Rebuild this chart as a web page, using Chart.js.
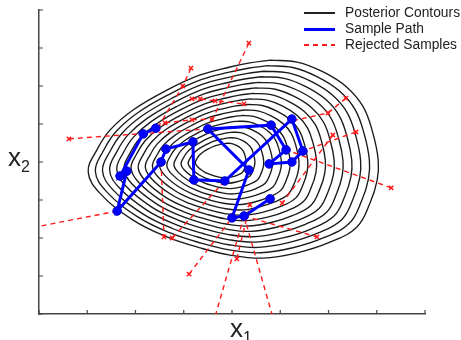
<!DOCTYPE html>
<html>
<head>
<meta charset="utf-8">
<script src="https://cdn.jsdelivr.net/npm/chart.js@4/dist/chart.umd.min.js"></script>
<style>
  html, body { margin: 0; padding: 0; background: #fff; }
  #wrap { position: relative; width: 461px; height: 340px; font-family: 'Liberation Sans', Arial, sans-serif; color: #222; }
  #chart { position: absolute; left: 0; top: 0; }
  .legend { position: absolute; left: 304px; top: 5px; font-size: 13.8px; line-height: 16px; }
  .legend .row { display: flex; align-items: center; height: 16px; white-space: nowrap; }
  .legend .sw { display: inline-block; width: 31px; margin-right: 10px; }
  .axlabel { position: absolute; font-size: 26px; line-height: 26px; }
  .axlabel sub { font-size: 16px; vertical-align: -6px; }
</style>
</head>
<body>
<div id="wrap">
  <canvas id="chart" width="461" height="340"></canvas>
  <div class="legend">
    <div class="row"><span class="sw" style="height:1.3px; background:#222"></span>Posterior Contours</div>
    <div class="row"><span class="sw" style="height:3px; background:#0000ff"></span>Sample Path</div>
    <div class="row"><span class="sw" style="height:1.5px; background:repeating-linear-gradient(to right, #ff1a1a 0 5px, transparent 5px 9px)"></span>Rejected Samples</div>
  </div>
  <div class="axlabel" style="left:8px; top:144px;">x<sub>2</sub></div>
  <div class="axlabel" style="left:230px; top:315px;">x<sub>1</sub></div>
</div>
<script>
// Axis ticks (no labels shown)
const xTicks = [0, 1, 2, 3, 4, 5, 6, 7, 8];
const yTicks = [0, 1, 2, 3, 4, 5, 6, 7, 8];

// Posterior contours: outermost contour, its focus, and relative levels
const contourCenter = [3.71, 4.03];
const outerX = [4.79, 5.35, 5.89, 6.38, 6.72, 6.92, 7.03, 7.01, 6.86, 6.59, 6.03, 5.35, 4.64,
                3.96, 3.34, 2.65, 1.95, 1.26, 1.02, 1.20, 1.47, 1.95, 2.65, 3.34, 3.96, 4.37, 4.79];
const outerY = [6.68, 6.63, 6.37, 5.97, 5.45, 4.76, 4.05, 3.53, 2.92, 2.29, 1.89, 1.61, 1.47,
                1.55, 1.74, 2.03, 2.47, 3.18, 3.74, 4.32, 4.84, 5.37, 5.89, 6.29, 6.50, 6.61, 6.68];
const contourLevels = [1.0, 0.945, 0.89, 0.835, 0.78, 0.725, 0.67, 0.615, 0.56, 0.505,
                       0.45, 0.395, 0.34, 0.285, 0.23, 0.175];

// Accepted sample path
const pathX = [2.42, 2.16, 1.68, 1.82, 1.62, 2.53, 2.63, 3.19, 3.21, 3.85, 5.24,
               5.47, 5.24, 4.77, 5.12, 4.81, 3.50, 4.35, 4.00, 4.25, 4.79];
const pathY = [4.89, 4.74, 3.63, 3.76, 2.71, 4.00, 4.34, 4.53, 3.53, 3.50, 5.13,
               4.29, 4.00, 3.95, 4.32, 4.97, 4.87, 3.79, 2.53, 2.58, 3.03];

// Rejected proposals: each segment is a list of [x, y]
const rejectedSegments = [
  [[0.62, 4.61], [3.50, 4.87]],
  [[3.15, 6.47], [2.98, 6.00], [2.47, 4.92]],
  [[3.17, 5.66], [3.34, 5.66], [3.65, 5.61], [4.25, 5.53]],
  [[2.61, 5.03], [3.17, 5.11], [3.59, 5.13]],
  [[4.35, 7.13], [3.50, 4.87]],
  [[6.36, 5.68], [5.99, 5.29], [5.24, 5.08]],
  [[6.57, 4.79], [5.47, 4.29]],
  [[6.09, 4.71], [5.04, 2.92]],
  [[7.30, 3.32], [5.12, 4.32]],
  [[4.25, 2.58], [5.76, 2.03]],
  [[4.10, 1.45], [4.37, 2.87]],
  [[3.11, 1.05], [4.00, 2.53]],
  [[2.53, 4.00], [2.59, 2.03]],
  [[2.76, 2.00], [3.85, 3.50]],
  [[4.25, 2.58], [3.54, -0.55]],
  [[4.25, 2.58], [4.95, -0.55]],
  [[1.62, 2.71], [-0.39, 2.21]]
];

const toPoints = (xs, ys) => xs.map((x, i) => ({ x: x, y: ys[i] }));

const contourSets = contourLevels.map(s => ({
  data: outerX.map((x, i) => ({
    x: contourCenter[0] + s * (x - contourCenter[0]),
    y: contourCenter[1] + s * (outerY[i] - contourCenter[1])
  })),
  showLine: true,
  borderColor: '#1a1a1a',
  borderWidth: 1.35,
  tension: 0.4,
  pointRadius: 0,
  order: 3
}));

const rejectedSets = rejectedSegments.map(seg => ({
  data: seg.map(p => ({ x: p[0], y: p[1] })),
  showLine: true,
  borderColor: '#ff1a1a',
  borderWidth: 1.4,
  borderDash: [5, 4],
  pointStyle: 'crossRot',
  pointRadius: 3,
  pointBorderColor: '#ff1a1a',
  pointBorderWidth: 1.5,
  order: 2
}));

const pathSet = {
  data: toPoints(pathX, pathY),
  showLine: true,
  borderColor: '#0000ff',
  borderWidth: 3,
  pointStyle: 'circle',
  pointRadius: 4.3,
  pointBackgroundColor: '#0000ff',
  pointBorderColor: '#0000cc',
  pointBorderWidth: 1,
  tension: 0,
  order: 1
};

// Short ticks drawn inward along the left and bottom axes
const innerTicks = {
  id: 'innerTicks',
  afterDraw(chart) {
    const { ctx, chartArea, scales } = chart;
    ctx.save();
    ctx.strokeStyle = '#444';
    ctx.lineWidth = 1.2;
    ctx.beginPath();
    scales.x.ticks.forEach((t, i) => {
      const px = scales.x.getPixelForTick(i);
      ctx.moveTo(px, chartArea.bottom);
      ctx.lineTo(px, chartArea.bottom - 4);
    });
    scales.y.ticks.forEach((t, i) => {
      const py = scales.y.getPixelForTick(i);
      ctx.moveTo(chartArea.left, py);
      ctx.lineTo(chartArea.left + 4, py);
    });
    ctx.stroke();
    ctx.restore();
  }
};

const axisOpts = (ticks) => ({
  type: 'linear',
  min: ticks[0],
  max: ticks[ticks.length - 1],
  afterBuildTicks: (scale) => { scale.ticks = ticks.map(v => ({ value: v })); },
  ticks: { display: false },
  grid: { display: true, drawOnChartArea: false, drawTicks: false },
  border: { display: true, color: '#444', width: 1.5 }
});

new Chart(document.getElementById('chart'), {
  type: 'scatter',
  data: { datasets: [pathSet, ...rejectedSets, ...contourSets] },
  options: {
    responsive: false,
    animation: false,
    devicePixelRatio: 1,
    layout: { padding: { left: 39, top: 10, right: 36, bottom: 26 } },
    plugins: { legend: { display: false }, tooltip: { enabled: false } },
    scales: { x: axisOpts(xTicks), y: axisOpts(yTicks) }
  },
  plugins: [innerTicks]
});
</script>
</body>
</html>
